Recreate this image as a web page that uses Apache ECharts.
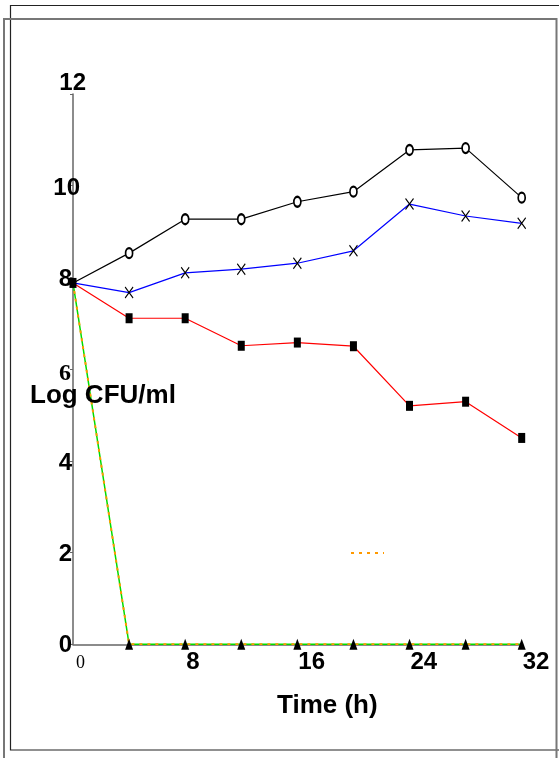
<!DOCTYPE html>
<html>
<head>
<meta charset="utf-8">
<script src="https://cdn.jsdelivr.net/npm/echarts@6/dist/echarts.min.js"></script>
<style>
    html, body { margin: 0; padding: 0; background: #fff; }
    #chart { width: 559px; height: 758px; }
</style>
</head>
<body>
<div id="chart"></div>
<script>
var hours = [0, 4, 8, 12, 16, 20, 24, 28, 32];
var controlLog = [7.88, 8.53, 9.27, 9.27, 9.65, 9.87, 10.78, 10.82, 9.74];
var blueLog = [7.88, 7.67, 8.10, 8.18, 8.31, 8.58, 9.60, 9.34, 9.18];
var redLog = [7.88, 7.11, 7.11, 6.51, 6.58, 6.50, 5.20, 5.29, 4.50];
var greenLog = [7.88, 0, 0, 0, 0, 0, 0, 0, 0];
var orangeLog = [7.88, 0, 0, 0, 0, 0, 0, 0, 0];
var yTicks = [0, 2, 4, 6, 8, 10, 12];
var xTicks = [0, 8, 16, 24, 32];

function pairs(ys) {
    return hours.map(function (h, i) { return [h, ys[i]]; });
}
function skipFirst(sym) {
    return function (v, p) { return p.dataIndex === 0 ? 'none' : sym; };
}

var chart = echarts.init(document.getElementById('chart'));
var font = 'Liberation Sans, Arial, sans-serif';
var serif = 'Liberation Serif, Times New Roman, serif';
// label keys for the y ticks (each one sits a bit differently)
var yKey = {0: 'b', 2: 'b', 4: 'n', 6: 's', 8: 'e', 10: 't', 12: 'w'};

var option = {
    animation: false,
    backgroundColor: '#fff',
    grid: { left: 73, right: 37.3, top: 94, bottom: 113.7 },
    legend: {
        data: ['orange'],
        left: 350,
        top: 548,
        padding: 0,
        itemWidth: 33,
        itemHeight: 10,
        itemStyle: { opacity: 0 },
        formatter: function () { return ''; },
        selectedMode: false
    },
    xAxis: {
        type: 'value',
        min: xTicks[0],
        max: xTicks[xTicks.length - 1],
        interval: 8,
        axisLine: { lineStyle: { color: '#666', width: 1.5 } },
        axisTick: { show: false },
        splitLine: { show: false },
        axisLabel: {
            align: 'left',
            margin: 6,
            showMaxLabel: true,
            formatter: function (v) {
                return v === 0 ? '{z|0}' : '{d|' + v + '}';
            },
            rich: {
                z: { fontFamily: serif, fontSize: 18, color: '#000', padding: [4, 0, 0, 3] },
                d: { fontFamily: font, fontSize: 24, fontWeight: 'bold', color: '#000', padding: [0, 0, 0, 1] }
            }
        }
    },
    yAxis: {
        type: 'value',
        min: yTicks[0],
        max: yTicks[yTicks.length - 1],
        interval: 2,
        axisLine: { show: true, lineStyle: { color: '#666', width: 1.5 } },
        axisTick: { show: true, length: 3, lineStyle: { color: '#666' } },
        splitLine: { show: false },
        axisLabel: {
            margin: -13,
            formatter: function (v) {
                return '{' + yKey[v] + '|' + v + '}';
            },
            rich: {
                w: { fontFamily: font, fontSize: 24, fontWeight: 'bold', color: '#000', padding: [0, 0, 22, 0] },
                t: { fontFamily: font, fontSize: 24, fontWeight: 'bold', color: '#000', padding: [6, 6, 0, 0] },
                e: { fontFamily: font, fontSize: 24, fontWeight: 'bold', color: '#000', padding: [4, 14, 0, 0] },
                s: { fontFamily: serif, fontSize: 24, fontWeight: 'bold', color: '#000', padding: [10, 15, 0, 0] },
                n: { fontFamily: font, fontSize: 24, fontWeight: 'bold', color: '#000', padding: [6, 14, 0, 0] },
                b: { fontFamily: font, fontSize: 24, fontWeight: 'bold', color: '#000', padding: [3, 14, 0, 0] }
            }
        }
    },
    series: [
        {
            name: 'green',
            type: 'line',
            z: 2,
            data: pairs(greenLog),
            symbol: 'none',
            lineStyle: { color: '#00dd00', width: 1.5 }
        },
        {
            name: 'orange',
            type: 'line',
            z: 3,
            data: pairs(orangeLog),
            symbol: 'none',
            itemStyle: { color: '#ff9900' },
            lineStyle: { color: '#ff9900', width: 2, type: [3, 5] }
        },
        {
            name: 'control',
            type: 'line',
            z: 4,
            data: pairs(controlLog),
            symbol: skipFirst('emptyCircle'),
            symbolSize: [7, 10],
            itemStyle: { color: '#000', borderColor: '#000', borderWidth: 1 },
            lineStyle: { color: '#000', width: 1.2 }
        },
        {
            name: 'blue',
            type: 'line',
            z: 4,
            data: pairs(blueLog),
            symbol: skipFirst('path://M0,0L10,12M10,0L0,12'),
            symbolSize: [8, 11],
            itemStyle: { color: 'rgba(0,0,0,0)', borderColor: '#000', borderWidth: 1.2 },
            lineStyle: { color: '#0000ff', width: 1.2 }
        },
        {
            name: 'red',
            type: 'line',
            z: 5,
            data: pairs(redLog),
            symbol: 'rect',
            symbolSize: [7, 10],
            itemStyle: { color: '#000' },
            lineStyle: { color: '#ff0000', width: 1.2 }
        },
        {
            name: 'green points',
            type: 'scatter',
            z: 6,
            data: pairs(greenLog),
            symbol: skipFirst('triangle'),
            symbolSize: [8, 11],
            itemStyle: { color: '#000', opacity: 1 }
        }
    ],
    graphic: [
        {
            type: 'rect',
            shape: { x: 10.5, y: 5.5, width: 600, height: 744.5 },
            style: { fill: null, stroke: '#222', lineWidth: 1.2 },
            z: -1
        },
        {
            type: 'rect',
            shape: { x: 4, y: 19, width: 552.5, height: 800 },
            style: { fill: null, stroke: '#777', lineWidth: 2 },
            z: -1
        },
        {
            type: 'text',
            left: 30,
            top: 383,
            style: { text: 'Log CFU/ml', font: 'bold 26px ' + font, fill: '#000' },
            z: 10
        },
        {
            type: 'text',
            left: 277,
            top: 693,
            style: { text: 'Time (h)', font: 'bold 26px ' + font, fill: '#000' }
        }
    ]
};
chart.setOption(option);
</script>
</body>
</html>
